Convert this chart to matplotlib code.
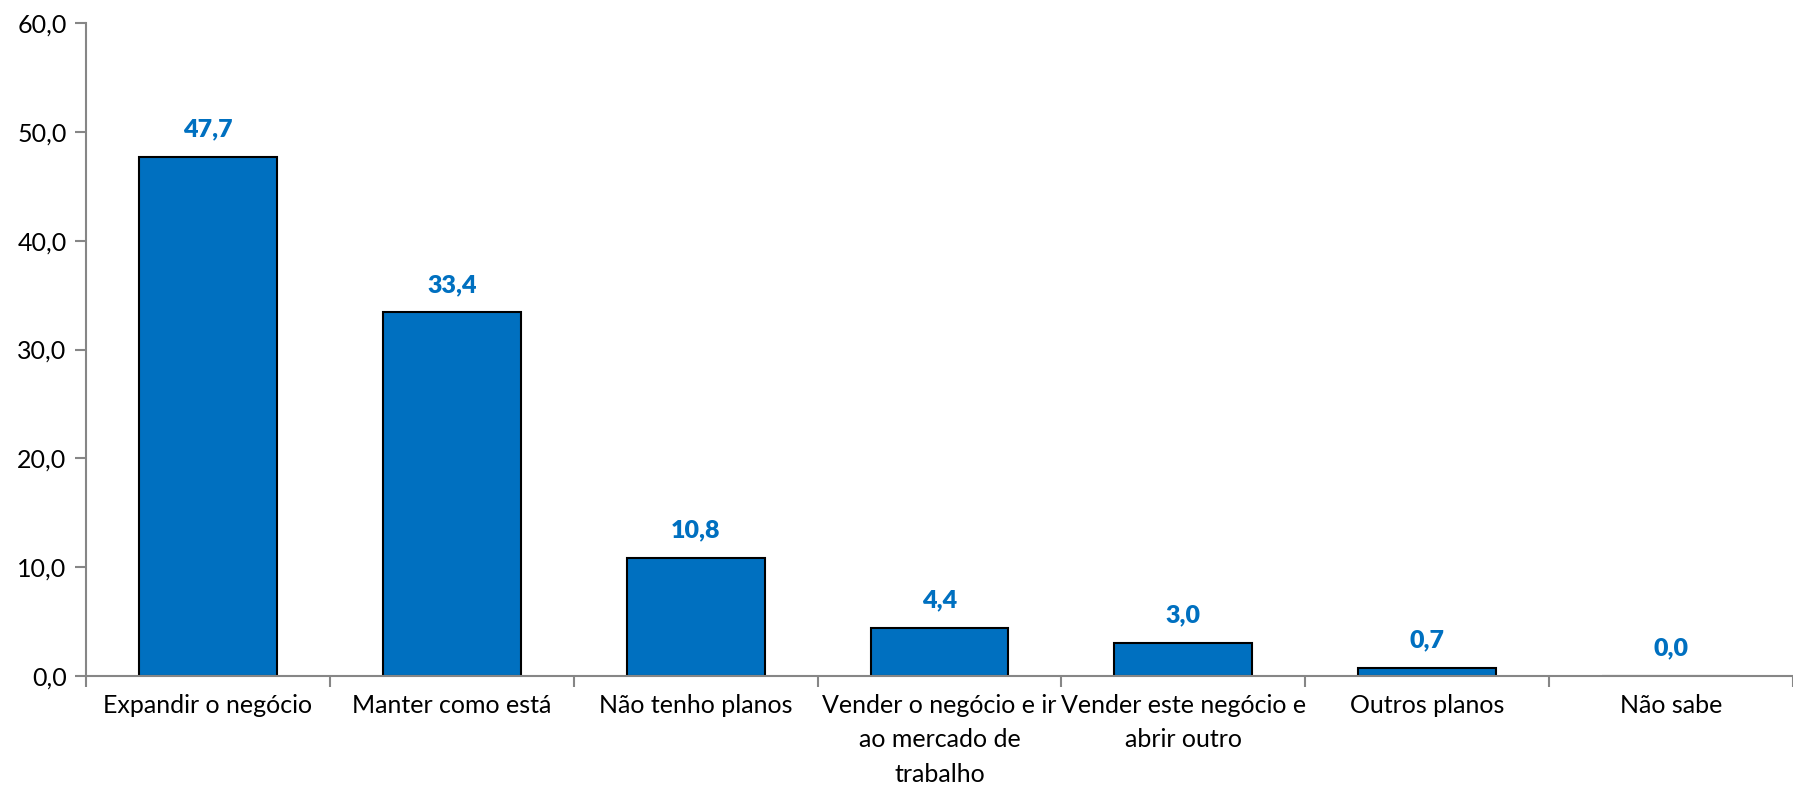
import matplotlib.pyplot as plt
import numpy as np

plt.rcParams['font.family'] = ['Lato', 'DejaVu Sans']

# data
categories = [
    "Expandir o negócio",
    "Manter como está",
    "Não tenho planos",
    "Vender o negócio e ir\nao mercado de\ntrabalho",
    "Vender este negócio e\nabrir outro",
    "Outros planos",
    "Não sabe",
]
values = [47.7, 33.4, 10.8, 4.4, 3.0, 0.7, 0.0]
yticks = [0, 10, 20, 30, 40, 50, 60]

blue = "#0070C0"
grey = "#868686"

fig = plt.figure(figsize=(17.93, 7.86), dpi=100)
ax = fig.add_axes([86 / 1793, 1 - 676 / 786, 1 - 86 / 1793, (676 - 23) / 786])

x = np.arange(len(categories))
ax.bar(x, values, width=0.565, color=blue, edgecolor="black", linewidth=1.5, zorder=2)

for xi, v in zip(x, values):
    ax.annotate(f"{v:.1f}".replace(".", ","), (xi, v), xytext=(0, 12),
                textcoords="offset points", ha="center", va="bottom",
                color=blue, fontsize=18, fontweight="heavy")

ax.set_xlim(-0.5, len(categories) - 0.5)
ax.set_ylim(0, 60)
ax.set_yticks(yticks)
ax.set_yticklabels([f"{t:.1f}".replace(".", ",") for t in yticks], fontsize=18)

# category labels centred, tick marks between categories
ax.set_xticks(x)
ax.set_xticklabels(categories, fontsize=18, linespacing=1.6)
ax.tick_params(axis="x", which="major", length=0, pad=13)
ax.set_xticks(np.arange(len(categories) + 1) - 0.5, minor=True)
ax.tick_params(axis="x", which="minor", length=8, width=1.5, color=grey, direction="out")
ax.tick_params(axis="y", length=8, width=1.5, color=grey, pad=6)

for s in ["top", "right"]:
    ax.spines[s].set_visible(False)
for s in ["left", "bottom"]:
    ax.spines[s].set_color(grey)
    ax.spines[s].set_linewidth(1.5)
    ax.spines[s].set_zorder(3)

fig.savefig("out.png", dpi=100)
